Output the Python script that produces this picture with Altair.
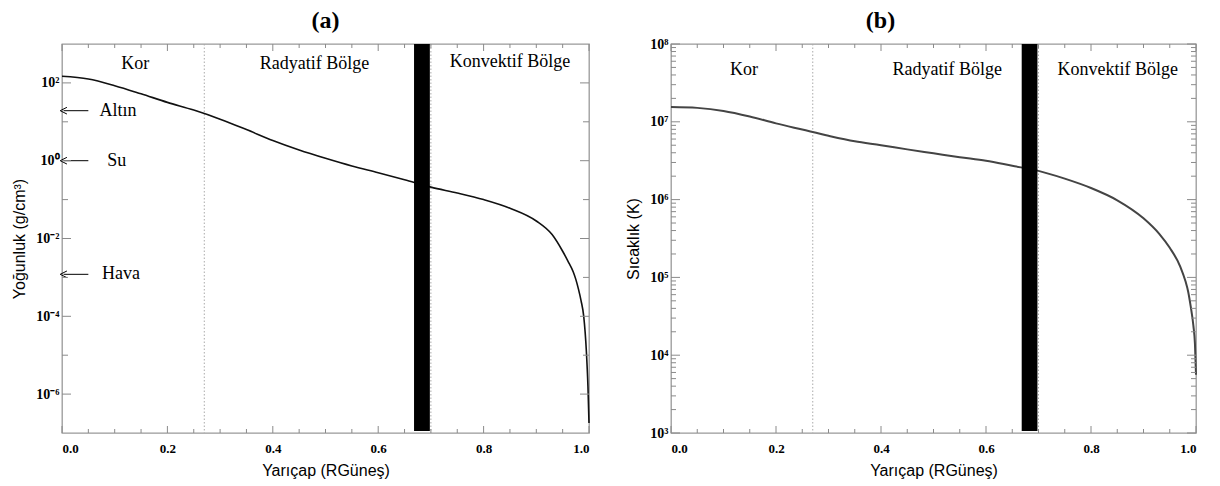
import altair as alt
import pandas as pd

# ---- data ----
r_density = [0, 0.05, 0.1, 0.15, 0.2, 0.25, 0.3, 0.35, 0.4, 0.45, 0.5, 0.55, 0.6,
             0.65, 0.7, 0.75, 0.8, 0.85, 0.9, 0.93, 0.95, 0.96, 0.97, 0.975, 0.98,
             0.985, 0.99, 0.995, 0.998, 1.0]
density = [148, 126, 85, 52.5, 31.6, 20, 11.7, 6.3, 3.3, 1.88, 1.15, 0.73, 0.49,
           0.324, 0.209, 0.148, 0.1, 0.060, 0.0282, 0.0126, 0.0047, 0.00263, 0.0014,
           8.9e-4, 5.0e-4, 2.5e-4, 1.0e-4, 1.26e-5, 1.6e-6, 1.8e-7]

r_temp = [0, 0.05, 0.1, 0.15, 0.2, 0.25, 0.3, 0.35, 0.4, 0.45, 0.5, 0.55, 0.6, 0.65,
          0.7, 0.75, 0.8, 0.85, 0.9, 0.93, 0.95, 0.97, 0.98, 0.985, 0.99, 0.995,
          0.998, 1.0]
temperature = [1.55e7, 1.51e7, 1.38e7, 1.17e7, 9.55e6, 7.94e6, 6.61e6, 5.62e6, 5.01e6,
               4.42e6, 3.94e6, 3.51e6, 3.16e6, 2.72e6, 2.34e6, 1.86e6, 1.41e6, 9.8e5,
               5.75e5, 3.63e5, 2.4e5, 1.38e5, 8.9e4, 6.6e4, 4.2e4, 2.4e4, 1.4e4, 5.6e3]

region_labels = ["Kor", "Radyatif Bölge", "Konvektif Bölge"]
region_r_a = [0.139, 0.479, 0.85]
region_v_a = [300, 300, 340]
region_r_b = [0.139, 0.526, 0.851]
region_v_b = [4.7e7, 4.7e7, 4.7e7]

arrow_labels = ["Altın", "Su", "Hava"]
arrow_values = [19.3, 1.0, 1.2e-3]
arrow_text_r = [0.071, 0.086, 0.076]

boundary_lines = [0.27, 0.70]
bar_start = [0.668]
bar_end = [0.698]

x_major = [0.0, 0.2, 0.4, 0.6, 0.8, 1.0]
x_minor = [0.05, 0.1, 0.15, 0.25, 0.3, 0.35, 0.45, 0.5, 0.55, 0.65, 0.7, 0.75,
           0.85, 0.9, 0.95]
dens_major = [1e-6, 1e-4, 1e-2, 1, 1e2]
dens_major_labels = ["10⁻⁶", "10⁻⁴", "10⁻²", "10⁰", "10²"]
dens_exps = [-6, -4, -2, 0, 2]
dens_minor = [1e-5, 1e-3, 1e-1, 1e1]
temp_major = [1e3, 1e4, 1e5, 1e6, 1e7, 1e8]
temp_major_labels = ["10³", "10⁴", "10⁵", "10⁶", "10⁷", "10⁸"]
temp_exps = [3, 4, 5, 6, 7, 8]
temp_minor = [2e3, 3e3, 4e3, 5e3, 6e3, 7e3, 8e3, 9e3,
              2e4, 3e4, 4e4, 5e4, 6e4, 7e4, 8e4, 9e4,
              2e5, 3e5, 4e5, 5e5, 6e5, 7e5, 8e5, 9e5,
              2e6, 3e6, 4e6, 5e6, 6e6, 7e6, 8e6, 9e6,
              2e7, 3e7, 4e7, 5e7, 6e7, 7e7, 8e7, 9e7]

H = 389
SERIF = "Liberation Serif"
SANS = "Liberation Sans"
TICK_COLOR = "#8a8a8a"


def label_expr(exps, labels):
    parts = [f"round(log(datum.value)/LN10) == {e} ? '{l}'" for e, l in zip(exps, labels)]
    return " : ".join(parts) + " : ''"


def x_ticks(xs, values, length):
    df = pd.DataFrame({"t": values})
    base = alt.Chart(df).mark_rule(color=TICK_COLOR, strokeWidth=1)
    bottom = base.encode(x=alt.X("t:Q", scale=xs, axis=None), x2="t:Q",
                         y=alt.value(H), y2=alt.value(H - length))
    top = base.encode(x=alt.X("t:Q", scale=xs, axis=None), x2="t:Q",
                      y=alt.value(0), y2=alt.value(length))
    return [bottom, top]


def y_ticks(ys, width, values, length):
    df = pd.DataFrame({"t": values})
    base = alt.Chart(df).mark_rule(color=TICK_COLOR, strokeWidth=1)
    left = base.encode(y=alt.Y("t:Q", scale=ys, axis=None), y2="t:Q",
                       x=alt.value(0), x2=alt.value(length))
    right = base.encode(y=alt.Y("t:Q", scale=ys, axis=None), y2="t:Q",
                        x=alt.value(width), x2=alt.value(width - length))
    return [left, right]


def panel(r, v, ydomain, ymajor, yexps, ylabels, yminor, major_y_size, minor_y_size,
          ytitle, ytitle_pad, width, title, title_dx, title_offset, line_color,
          line_width, reg_r, reg_v, with_arrows):
    xs = alt.Scale(domain=[0, 1], nice=False, zero=False)
    ys = alt.Scale(type="log", domain=ydomain, nice=False)

    layers = []
    rules = pd.DataFrame({"r": boundary_lines})
    layers.append(alt.Chart(rules).mark_rule(color="#aaaaaa", strokeDash=[1.5, 2],
                                             strokeWidth=1).encode(
        x=alt.X("r:Q", scale=xs, axis=None)))

    df = pd.DataFrame({"r": r, "v": v})
    layers.append(alt.Chart(df).mark_line(color=line_color, strokeWidth=line_width,
                                          interpolate="monotone").encode(
        x=alt.X("r:Q", scale=xs, axis=alt.Axis(
            values=x_major, format=".1f", ticks=False, domain=False, grid=False,
            labelFont=SERIF, labelFontWeight="bold", labelFontSize=13,
            labelColor="black", labelPadding=9,
            title="Yarıçap (RGüneş)", titleFont=SANS, titleFontSize=16,
            titleFontWeight="normal", titleColor="black", titlePadding=7)),
        y=alt.Y("v:Q", scale=ys, axis=alt.Axis(
            values=ymajor, labelExpr=label_expr(yexps, ylabels), ticks=False,
            domain=False, grid=False, labelFont=SERIF, labelFontWeight="bold",
            labelFontSize=14, labelColor="black", labelPadding=3,
            title=ytitle, titleFont=SANS, titleFontSize=16, titleFontWeight="normal",
            titleColor="black", titlePadding=ytitle_pad))))

    bar = pd.DataFrame({"r0": bar_start, "r1": bar_end})
    layers.append(alt.Chart(bar).mark_rect(color="black").encode(
        x=alt.X("r0:Q", scale=xs, axis=None), x2="r1:Q",
        y=alt.value(0), y2=alt.value(H - 2)))

    reg = pd.DataFrame({"t": region_labels, "r": reg_r, "v": reg_v})
    layers.append(alt.Chart(reg).mark_text(font=SERIF, fontSize=18, color="black",
                                           align="center", baseline="middle").encode(
        x=alt.X("r:Q", scale=xs, axis=None),
        y=alt.Y("v:Q", scale=ys, axis=None), text="t:N"))

    if with_arrows:
        arr = pd.DataFrame({"t": arrow_labels, "v": arrow_values, "tr": arrow_text_r,
                            "a0": [0.003] * 3, "a1": [0.05] * 3})
        layers.append(alt.Chart(arr).mark_rule(color="black", strokeWidth=1).encode(
            x=alt.X("a0:Q", scale=xs, axis=None), x2="a1:Q",
            y=alt.Y("v:Q", scale=ys, axis=None)))
        layers.append(alt.Chart(arr).mark_point(shape="M 1 -1 L -1 0 L 1 1", filled=False,
                                                size=45, color="black", strokeWidth=1,
                                                opacity=1).encode(
            x=alt.X("a0:Q", scale=xs, axis=None),
            y=alt.Y("v:Q", scale=ys, axis=None)))
        layers.append(alt.Chart(arr).mark_text(font=SERIF, fontSize=18, color="black",
                                               align="left", baseline="middle").encode(
            x=alt.X("tr:Q", scale=xs, axis=None),
            y=alt.Y("v:Q", scale=ys, axis=None), text="t:N"))

    # inward ticks on all four sides
    layers += x_ticks(xs, x_major, 7)
    layers += x_ticks(xs, x_minor, 4)
    layers += y_ticks(ys, width, ymajor, major_y_size)
    layers += y_ticks(ys, width, yminor, minor_y_size)

    return alt.layer(*layers).resolve_axis(x="independent", y="independent").properties(
        width=width, height=H,
        title=alt.TitleParams(title, font=SERIF, fontSize=24, fontWeight="bold",
                              color="black", offset=title_offset, anchor="middle",
                              dx=title_dx, frame="group"))


pa = panel(r_density, density, [1e-7, 1e3], dens_major, dens_exps, dens_major_labels,
           dens_minor, 9, 6, "Yoğunluk (g/cm³)", 8, 527, "(a)", 0, 11, "#111111", 1.6,
           region_r_a, region_v_a, True)
pb = panel(r_temp, temperature, [1e3, 1e8], temp_major, temp_exps, temp_major_labels,
           temp_minor, 9, 5, "Sıcaklık (K)", 8, 525, "(b)", -53, 4, "#444444", 2.0,
           region_r_b, region_v_b, False)

chart = alt.hconcat(pa, pb, spacing=32).configure_view(
    stroke="#999999", strokeWidth=1.3).properties(
    padding={"left": 3, "top": -1, "right": 5, "bottom": 0}, background="white")

chart.save("out.html", embed_options={"renderer": "svg", "actions": False})
